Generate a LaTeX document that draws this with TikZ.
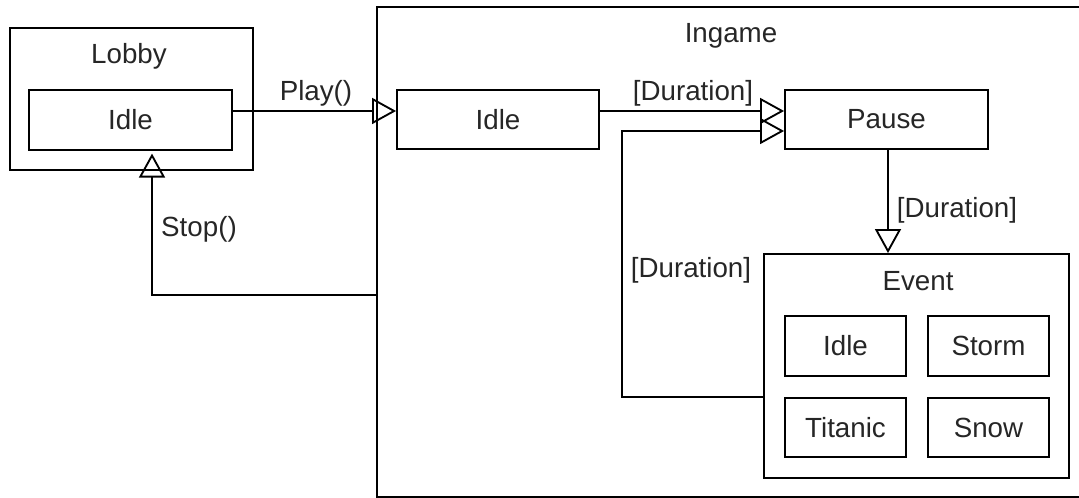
\documentclass[tikz,border=0pt]{standalone}
\usepackage{fontspec}
\setmainfont{Liberation Sans}
\usetikzlibrary{arrows.meta}
\begin{document}
\begin{tikzpicture}[x=0.75pt,y=-0.75pt,
  every node/.style={font=\fontsize{20.8}{24}\selectfont, text=black!85},
  box/.style={draw, line width=1.4pt, inner sep=0pt, anchor=center},
  lbl/.style={inner sep=0pt, anchor=center},
  conn/.style={line width=1.4pt, -{Triangle[open, length=18pt, width=19.5pt]}},
  wire/.style={line width=1.4pt}]
\useasboundingbox (0,0) rectangle (1079,498);
\clip (0,0) rectangle (1079,498);
% containers
\node[box, minimum width=182.25pt, minimum height=106.5pt] (lobby) at (131.5,99) {};
\node[lbl] (lobbylbl) at (129,56) {Lobby};
\node[box, minimum width=152.25pt, minimum height=45pt] (lidle) at (130.5,120) {Idle};
\node[box, minimum width=534.75pt, minimum height=367.5pt] (ingame) at (733.5,252) {};
\node[lbl] (ingamelbl) at (731,36) {Ingame};
\node[box, minimum width=151.5pt, minimum height=44.25pt] (iidle) at (498,119.5) {Idle};
\node[box, minimum width=152.25pt, minimum height=44.25pt] (pause) at (886.5,119.5) {Pause};
\node[box, minimum width=228.75pt, minimum height=168pt] (event) at (916.5,366) {};
\node[lbl] (eventlbl) at (918,281) {Event};
\node[box, minimum width=90.75pt, minimum height=45pt] (eidle) at (845.5,346) {Idle};
\node[box, minimum width=90.75pt, minimum height=45pt] (storm) at (988.5,346) {Storm};
\node[box, minimum width=90.75pt, minimum height=44.25pt] (titanic) at (845.5,427.5) {Titanic};
\node[box, minimum width=90.75pt, minimum height=44.25pt] (snow) at (988.5,427.5) {Snow};
% connectors
\draw[conn] ([yshift=6.75pt]lidle.east) -- ([yshift=6.375pt]iidle.west);
\node[lbl] (playlbl) at (316,93) {Play()};
\draw[conn] ([yshift=6.375pt]iidle.east) -- ([yshift=6.375pt]pause.west);
\node[lbl] (d1) at (693,93) {[Duration]};
\coordinate (bA) at (622,397);
\coordinate (bB) at (622,131);
\draw[conn] ([yshift=-23.25pt]event.west) -- (bA) -- (bB) -- ([yshift=-8.625pt]pause.west);
\node[lbl] (d3) at (691,270) {[Duration]};
\draw[conn] ([xshift=1.125pt]pause.south) -- ([xshift=-21.375pt]event.north);
\node[lbl] (d2) at (957,210) {[Duration]};
\coordinate (sB) at (152,295);
\draw[conn, shorten >=2pt] ([yshift=-32.25pt]ingame.west) -- (sB) -- ([xshift=16.125pt]lidle.south);
\node[lbl] (stoplbl) at (199,229) {Stop()};
\end{tikzpicture}
\end{document}
